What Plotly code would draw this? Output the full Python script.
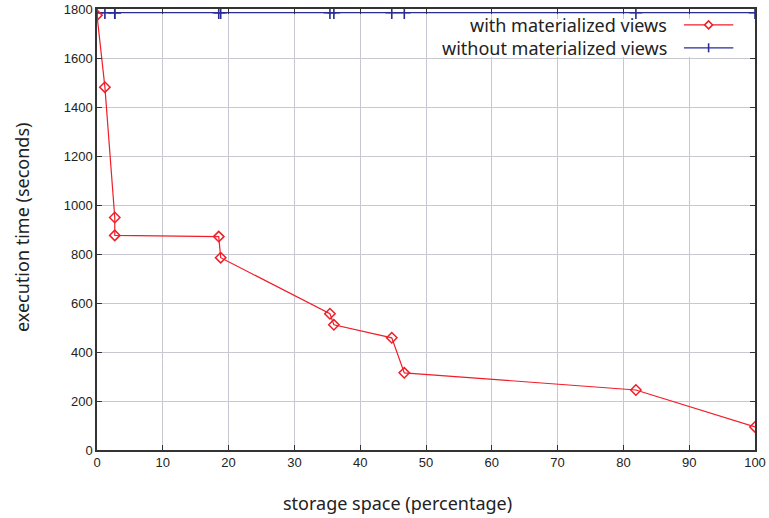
import plotly.graph_objects as go

storage = [0, 1.2, 2.7, 2.7, 18.5, 18.8, 35.4, 36.0, 44.8, 46.7, 81.9, 100]
with_mv = [1775, 1481, 949, 876, 871, 785, 556, 511, 458, 315, 245, 94]
without_mv = [1785] * len(storage)

y_ticks = list(range(0, 1801, 200))
x_ticks = list(range(0, 101, 10))

RED = "rgb(240,30,40)"
BLUE = "rgb(40,45,150)"

fig = go.Figure()
fig.add_trace(go.Scatter(x=storage, y=without_mv, mode="lines+markers",
                         name="without materialized views",
                         line=dict(color=BLUE, width=1.2),
                         marker=dict(symbol="cross-thin-open", size=9, color=BLUE,
                                     line=dict(color=BLUE, width=1.6))))
fig.add_trace(go.Scatter(x=storage, y=with_mv, mode="lines+markers",
                         name="with materialized views",
                         line=dict(color=RED, width=1.2),
                         marker=dict(symbol="diamond-open", size=8, color=RED,
                                     line=dict(color=RED, width=1.5))))

W, H = 658.0, 441.0  # plot area pixel size
def px(dx):
    return dx / W
def py(dy):
    return dy / H

shapes = []
# legend background box (white, covering grid, below the top blue line)
shapes.append(dict(type="rect", xref="paper", yref="paper",
                   x0=(430 - 97) / W, x1=(752 - 97) / W,
                   y0=(450 - 57) / H, y1=(450 - 19) / H,
                   fillcolor="white", line=dict(width=0)))
rows = [(0.964, "with materialized views", RED, "diamond"),
        (0.912, "without materialized views", BLUE, "plus")]
annotations = []
for yy, txt, col, sym in rows:
    annotations.append(dict(x=0.869, y=yy, xref="paper", yref="paper", text=txt,
                            showarrow=False, xanchor="right", yanchor="middle",
                            font=dict(family="Noto Sans", size=18, color="#222")))
    shapes.append(dict(type="line", xref="paper", yref="paper", x0=0.892, x1=0.967,
                       y0=yy, y1=yy, line=dict(color=col, width=1.3)))
    cx = 0.9295
    if sym == "diamond":
        d = 4.0
        path = (f"M {cx - px(d)} {yy} L {cx} {yy + py(d)} L {cx + px(d)} {yy} "
                f"L {cx} {yy - py(d)} Z")
        shapes.append(dict(type="path", xref="paper", yref="paper", path=path,
                           fillcolor="white", line=dict(color=col, width=1.5)))
    else:
        d = 4.5
        shapes.append(dict(type="line", xref="paper", yref="paper", x0=cx, x1=cx,
                           y0=yy - py(d), y1=yy + py(d), line=dict(color=col, width=1.6)))

# axis titles as annotations (placed as in the reference)
annotations.append(dict(x=(397 - 97) / W, y=(450 - 503) / H, xref="paper", yref="paper",
                        text="storage space (percentage)", showarrow=False,
                        xanchor="center", yanchor="middle",
                        font=dict(family="Noto Sans", size=18, color="#222")))
annotations.append(dict(x=(22 - 97) / W, y=(450 - 228) / H, xref="paper", yref="paper",
                        text="execution time (seconds)", showarrow=False, textangle=-90,
                        xanchor="center", yanchor="middle",
                        font=dict(family="Noto Sans", size=18, color="#222")))

fig.update_layout(
    width=769, height=518,
    margin=dict(l=97, r=14, t=9, b=68, autoexpand=False),
    paper_bgcolor="white", plot_bgcolor="white",
    showlegend=False,
    shapes=shapes, annotations=annotations,
    xaxis=dict(range=[0, 100], tickvals=x_ticks, ticks="inside", ticklen=5,
               tickcolor="#333", showline=True, linecolor="#333", linewidth=1.5,
               mirror="ticks", showgrid=True, gridcolor="rgb(200,200,210)", gridwidth=1,
               zeroline=False, automargin=False,
               tickfont=dict(family="Liberation Sans", size=13, color="#222")),
    yaxis=dict(range=[0, 1800], tickvals=y_ticks, ticks="inside", ticklen=5,
               tickcolor="#333", showline=True, linecolor="#333", linewidth=1.5,
               mirror="ticks", showgrid=True, gridcolor="rgb(200,200,210)", gridwidth=1,
               zeroline=False, automargin=False,
               tickfont=dict(family="Liberation Sans", size=13, color="#222")),
)

fig.write_html("out.html", config={"displayModeBar": False},
               post_script="document.body.style.margin='0';document.body.style.overflow='hidden';")
